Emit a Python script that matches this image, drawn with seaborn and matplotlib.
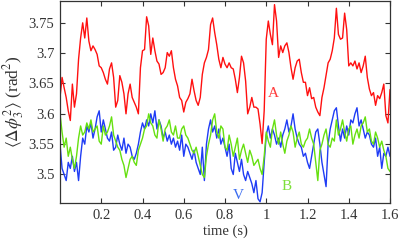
import numpy as np
import pandas as pd
import seaborn as sns
import matplotlib
matplotlib.use("Agg")
import matplotlib.pyplot as plt

# sampled every 0.01 s from 0 to 1.6 s
time = np.round(np.arange(161) * 0.01, 2)

# mode A (red)
red = [
    3.627, 3.660, 3.643, 3.627, 3.605, 3.589, 3.649, 3.611, 3.633, 3.690,
    3.725, 3.750, 3.725, 3.758, 3.720, 3.704, 3.712, 3.706, 3.698, 3.679,
    3.676, 3.668, 3.657, 3.649, 3.674, 3.684, 3.660, 3.611, 3.622, 3.663,
    3.652, 3.633, 3.600, 3.633, 3.649, 3.627, 3.619, 3.611, 3.600, 3.676,
    3.704, 3.706, 3.760, 3.745, 3.698, 3.725, 3.704, 3.687, 3.682, 3.665,
    3.668, 3.676, 3.701, 3.695, 3.704, 3.676, 3.657, 3.646, 3.627, 3.622,
    3.603, 3.619, 3.625, 3.633, 3.657, 3.638, 3.622, 3.614, 3.627, 3.665,
    3.684, 3.693, 3.706, 3.747, 3.758, 3.734, 3.714, 3.690, 3.676, 3.693,
    3.682, 3.676, 3.684, 3.676, 3.674, 3.657, 3.635, 3.660, 3.695, 3.684,
    3.654, 3.600, 3.611, 3.627, 3.611, 3.611, 3.608, 3.583, 3.551, 3.605,
    3.723, 3.753, 3.731, 3.714, 3.780, 3.753, 3.693, 3.712, 3.701, 3.712,
    3.717, 3.701, 3.676, 3.657, 3.676, 3.687, 3.690, 3.668, 3.652, 3.652,
    3.630, 3.643, 3.625, 3.627, 3.611, 3.603, 3.597, 3.627, 3.643, 3.663,
    3.684, 3.690, 3.704, 3.725, 3.774, 3.731, 3.723, 3.725, 3.766, 3.739,
    3.679, 3.684, 3.679, 3.687, 3.674, 3.684, 3.668, 3.679, 3.695, 3.660,
    3.641, 3.630, 3.635, 3.614, 3.630, 3.625, 3.635, 3.649, 3.597, 3.585,
    3.640,
]

# mode V (blue)
blue = [
    3.55, 3.51, 3.50, 3.49, 3.52, 3.51, 3.53, 3.505, 3.52, 3.49,
    3.53, 3.56, 3.55, 3.58, 3.57, 3.585, 3.56, 3.575, 3.595, 3.605,
    3.57, 3.59, 3.575, 3.56, 3.555, 3.57, 3.54, 3.545, 3.565, 3.55,
    3.54, 3.56, 3.535, 3.55, 3.545, 3.53, 3.525, 3.535, 3.55, 3.57,
    3.585, 3.575, 3.59, 3.58, 3.60, 3.585, 3.605, 3.575, 3.59, 3.58,
    3.56, 3.57, 3.555, 3.565, 3.55, 3.56, 3.545, 3.555, 3.54, 3.565,
    3.53, 3.55, 3.545, 3.535, 3.525, 3.54, 3.52, 3.51, 3.50, 3.545,
    3.49, 3.55, 3.575, 3.59, 3.57, 3.58, 3.56, 3.575, 3.55, 3.56,
    3.545, 3.53, 3.55, 3.51, 3.50, 3.535, 3.52, 3.505, 3.525, 3.50,
    3.49, 3.505, 3.495, 3.485, 3.47, 3.49, 3.46, 3.455, 3.47, 3.52,
    3.565, 3.58, 3.56, 3.575, 3.565, 3.55, 3.56, 3.545, 3.565, 3.575,
    3.59, 3.57, 3.58, 3.60, 3.575, 3.56, 3.55, 3.545, 3.53, 3.535,
    3.52, 3.51, 3.53, 3.55, 3.57, 3.575, 3.55, 3.52, 3.50, 3.48,
    3.55, 3.575, 3.59, 3.605, 3.61, 3.58, 3.555, 3.575, 3.56, 3.58,
    3.565, 3.59, 3.585, 3.60, 3.61, 3.58, 3.59, 3.575, 3.56, 3.57,
    3.565, 3.55, 3.545, 3.56, 3.53, 3.545, 3.51, 3.535, 3.53, 3.545,
    3.53,
]

# mode B (green)
green = [
    3.60, 3.57, 3.545, 3.56, 3.53, 3.545, 3.525, 3.51, 3.53, 3.56,
    3.58, 3.565, 3.57, 3.585, 3.575, 3.59, 3.57, 3.575, 3.58, 3.555,
    3.55, 3.58, 3.565, 3.57, 3.58, 3.595, 3.565, 3.555, 3.545, 3.54,
    3.525, 3.515, 3.495, 3.51, 3.525, 3.53, 3.52, 3.515, 3.54, 3.55,
    3.56, 3.575, 3.58, 3.60, 3.585, 3.58, 3.565, 3.56, 3.59, 3.575,
    3.555, 3.575, 3.58, 3.59, 3.57, 3.565, 3.58, 3.56, 3.56, 3.575,
    3.58, 3.565, 3.56, 3.55, 3.54, 3.535, 3.545, 3.53, 3.515, 3.50,
    3.495, 3.53, 3.55, 3.565, 3.59, 3.60, 3.57, 3.56, 3.58, 3.575,
    3.545, 3.54, 3.565, 3.55, 3.53, 3.545, 3.56, 3.525, 3.54, 3.55,
    3.535, 3.52, 3.54, 3.53, 3.515, 3.52, 3.525, 3.51, 3.50, 3.53,
    3.57, 3.555, 3.545, 3.575, 3.59, 3.565, 3.55, 3.57, 3.55, 3.535,
    3.555, 3.565, 3.58, 3.57, 3.545, 3.56, 3.57, 3.55, 3.545, 3.555,
    3.56, 3.575, 3.56, 3.55, 3.52, 3.49, 3.54, 3.55, 3.565, 3.575,
    3.55, 3.545, 3.56, 3.555, 3.59, 3.565, 3.575, 3.59, 3.57, 3.555,
    3.575, 3.58, 3.55, 3.565, 3.575, 3.56, 3.58, 3.585, 3.595, 3.57,
    3.575, 3.555, 3.55, 3.57, 3.56, 3.545, 3.555, 3.54, 3.53, 3.51,
    3.505,
]

modes = ["A", "V", "B"]
colors = {"A": "#ff1010", "V": "#1f3cf5", "B": "#66e010"}
label_pos = {"A": (1.032, 3.633), "V": (0.867, 3.466), "B": (1.10, 3.48)}
label_colors = {"A": "#ff3b3b", "V": "#3b6cf0", "B": "#7ee03a"}

xticks = [0.2, 0.4, 0.6, 0.8, 1.0, 1.2, 1.4, 1.6]
yticks = [3.5, 3.55, 3.6, 3.65, 3.7, 3.75]

# long form table for seaborn
data = pd.DataFrame({
    "time": np.tile(time, 3),
    "value": red + blue + green,
    "mode": np.repeat(modes, len(time)),
})

sns.set_style("ticks", {"xtick.direction": "in", "ytick.direction": "in",
                        "axes.edgecolor": "#333333"})
plt.rcParams["font.family"] = ["Liberation Serif", "DejaVu Serif"]
plt.rcParams["mathtext.fontset"] = "stix"

fig = plt.figure(figsize=(3.98, 2.41), dpi=100)
ax = fig.add_axes([60 / 398, 1 - 203 / 241, 330 / 398, 202 / 241])

sns.lineplot(data=data, x="time", y="value", hue="mode", hue_order=["A", "V", "B"],
             palette=colors, estimator=None, sort=False, lw=1.0,
             legend=False, ax=ax)

for m in modes:
    x, y = label_pos[m]
    ax.text(x, y, m, color=label_colors[m], fontsize=11, ha="center", va="center")

ax.set_xlim(0, 1.6)
ax.set_ylim(3.453, 3.786)
ax.set_xticks(xticks)
ax.set_xticklabels(["%g" % v for v in xticks])
ax.set_yticks(yticks)
ax.set_yticklabels(["%g" % v for v in yticks])
ax.tick_params(top=True, right=True, direction="in", length=3.5, width=0.8,
               labelsize=10.5, labelcolor="#333333", color="#333333", pad=4)
for s in ax.spines.values():
    s.set_linewidth(0.9)

ax.set_xlabel("time (s)", fontsize=10.5, color="#333333", labelpad=2)
ax.set_ylabel(r"$\langle\Delta\phi_3^2\rangle$ (rad$^2$)", fontsize=12.5,
              color="#333333", labelpad=2)

fig.savefig("out.png", dpi=100)
